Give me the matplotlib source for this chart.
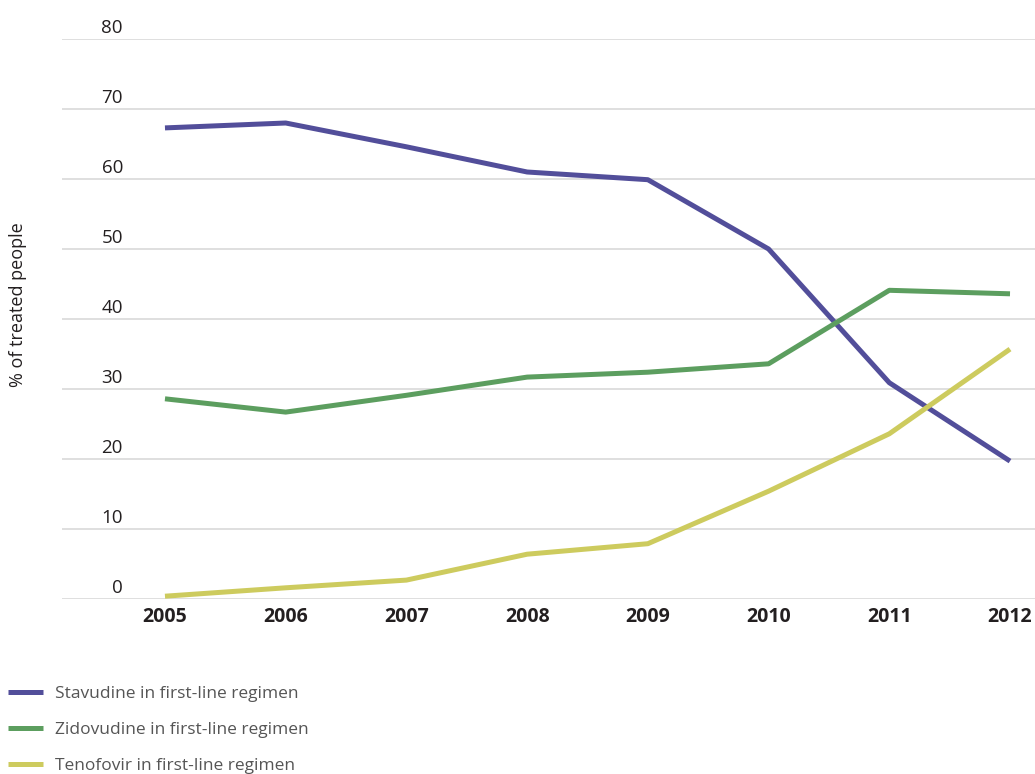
import matplotlib
matplotlib.use("Agg")
import matplotlib.pyplot as plt
from matplotlib.transforms import ScaledTranslation

years = [2005, 2006, 2007, 2008, 2009, 2010, 2011, 2012]
stavudine = [67.3, 68.0, 64.6, 61.0, 59.9, 50.0, 30.9, 19.7]
zidovudine = [28.6, 26.7, 29.1, 31.7, 32.4, 33.6, 44.1, 43.6]
tenofovir = [0.4, 1.6, 2.7, 6.4, 7.9, 15.4, 23.6, 35.7]
series_labels = ["Stavudine in first-line regimen",
                 "Zidovudine in first-line regimen",
                 "Tenofovir in first-line regimen"]
colors = ["#524E9A", "#5C9E5F", "#CDCB5E"]
yticks = [0, 10, 20, 30, 40, 50, 60, 70, 80]

plt.rcParams['font.family'] = ['Open Sans', 'DejaVu Sans']

W, H = 1035, 774
fig = plt.figure(figsize=(W / 100, H / 100), dpi=100)
ax = fig.add_axes([62 / W, (H - 599) / H, (W - 62) / W, 560 / H])

for vals, c, lab in zip([stavudine, zidovudine, tenofovir], colors, series_labels):
    ax.plot(years, vals, color=c, lw=3.6, label=lab, solid_capstyle='butt', zorder=3)

ax.set_xlim(2004.147, 2012.207)
ax.set_ylim(0, 80)
ax.set_yticks(yticks)
ax.set_xticks(years)
ax.grid(axis='y', color='#d9d9d9', lw=1.2, zorder=0)
ax.set_axisbelow(True)
for s in ax.spines.values():
    s.set_visible(False)
ax.tick_params(axis='both', length=0)
ax.tick_params(axis='y', pad=0, labelsize=13.5, labelcolor='#231F20')
ax.tick_params(axis='x', pad=6, labelsize=14, labelcolor='#231F20')
for lbl in ax.get_xticklabels():
    lbl.set_fontweight('bold')
off = ScaledTranslation(0.61, 0.13, fig.dpi_scale_trans)
for lbl in ax.get_yticklabels():
    lbl.set_transform(lbl.get_transform() + off)

fig.text(18 / W, 1 - 305 / H, "% of treated people", rotation=90,
         ha='center', va='center', fontsize=13, color='#231F20')

fig.legend(loc='upper left', bbox_to_anchor=(8 / W, 1 - 686 / H), frameon=False,
           fontsize=12.5, labelcolor='#555555', handlelength=2.0, handletextpad=0.7,
           labelspacing=1.15, borderaxespad=0.0, borderpad=0.0)

fig.savefig("out.png", dpi=100)
